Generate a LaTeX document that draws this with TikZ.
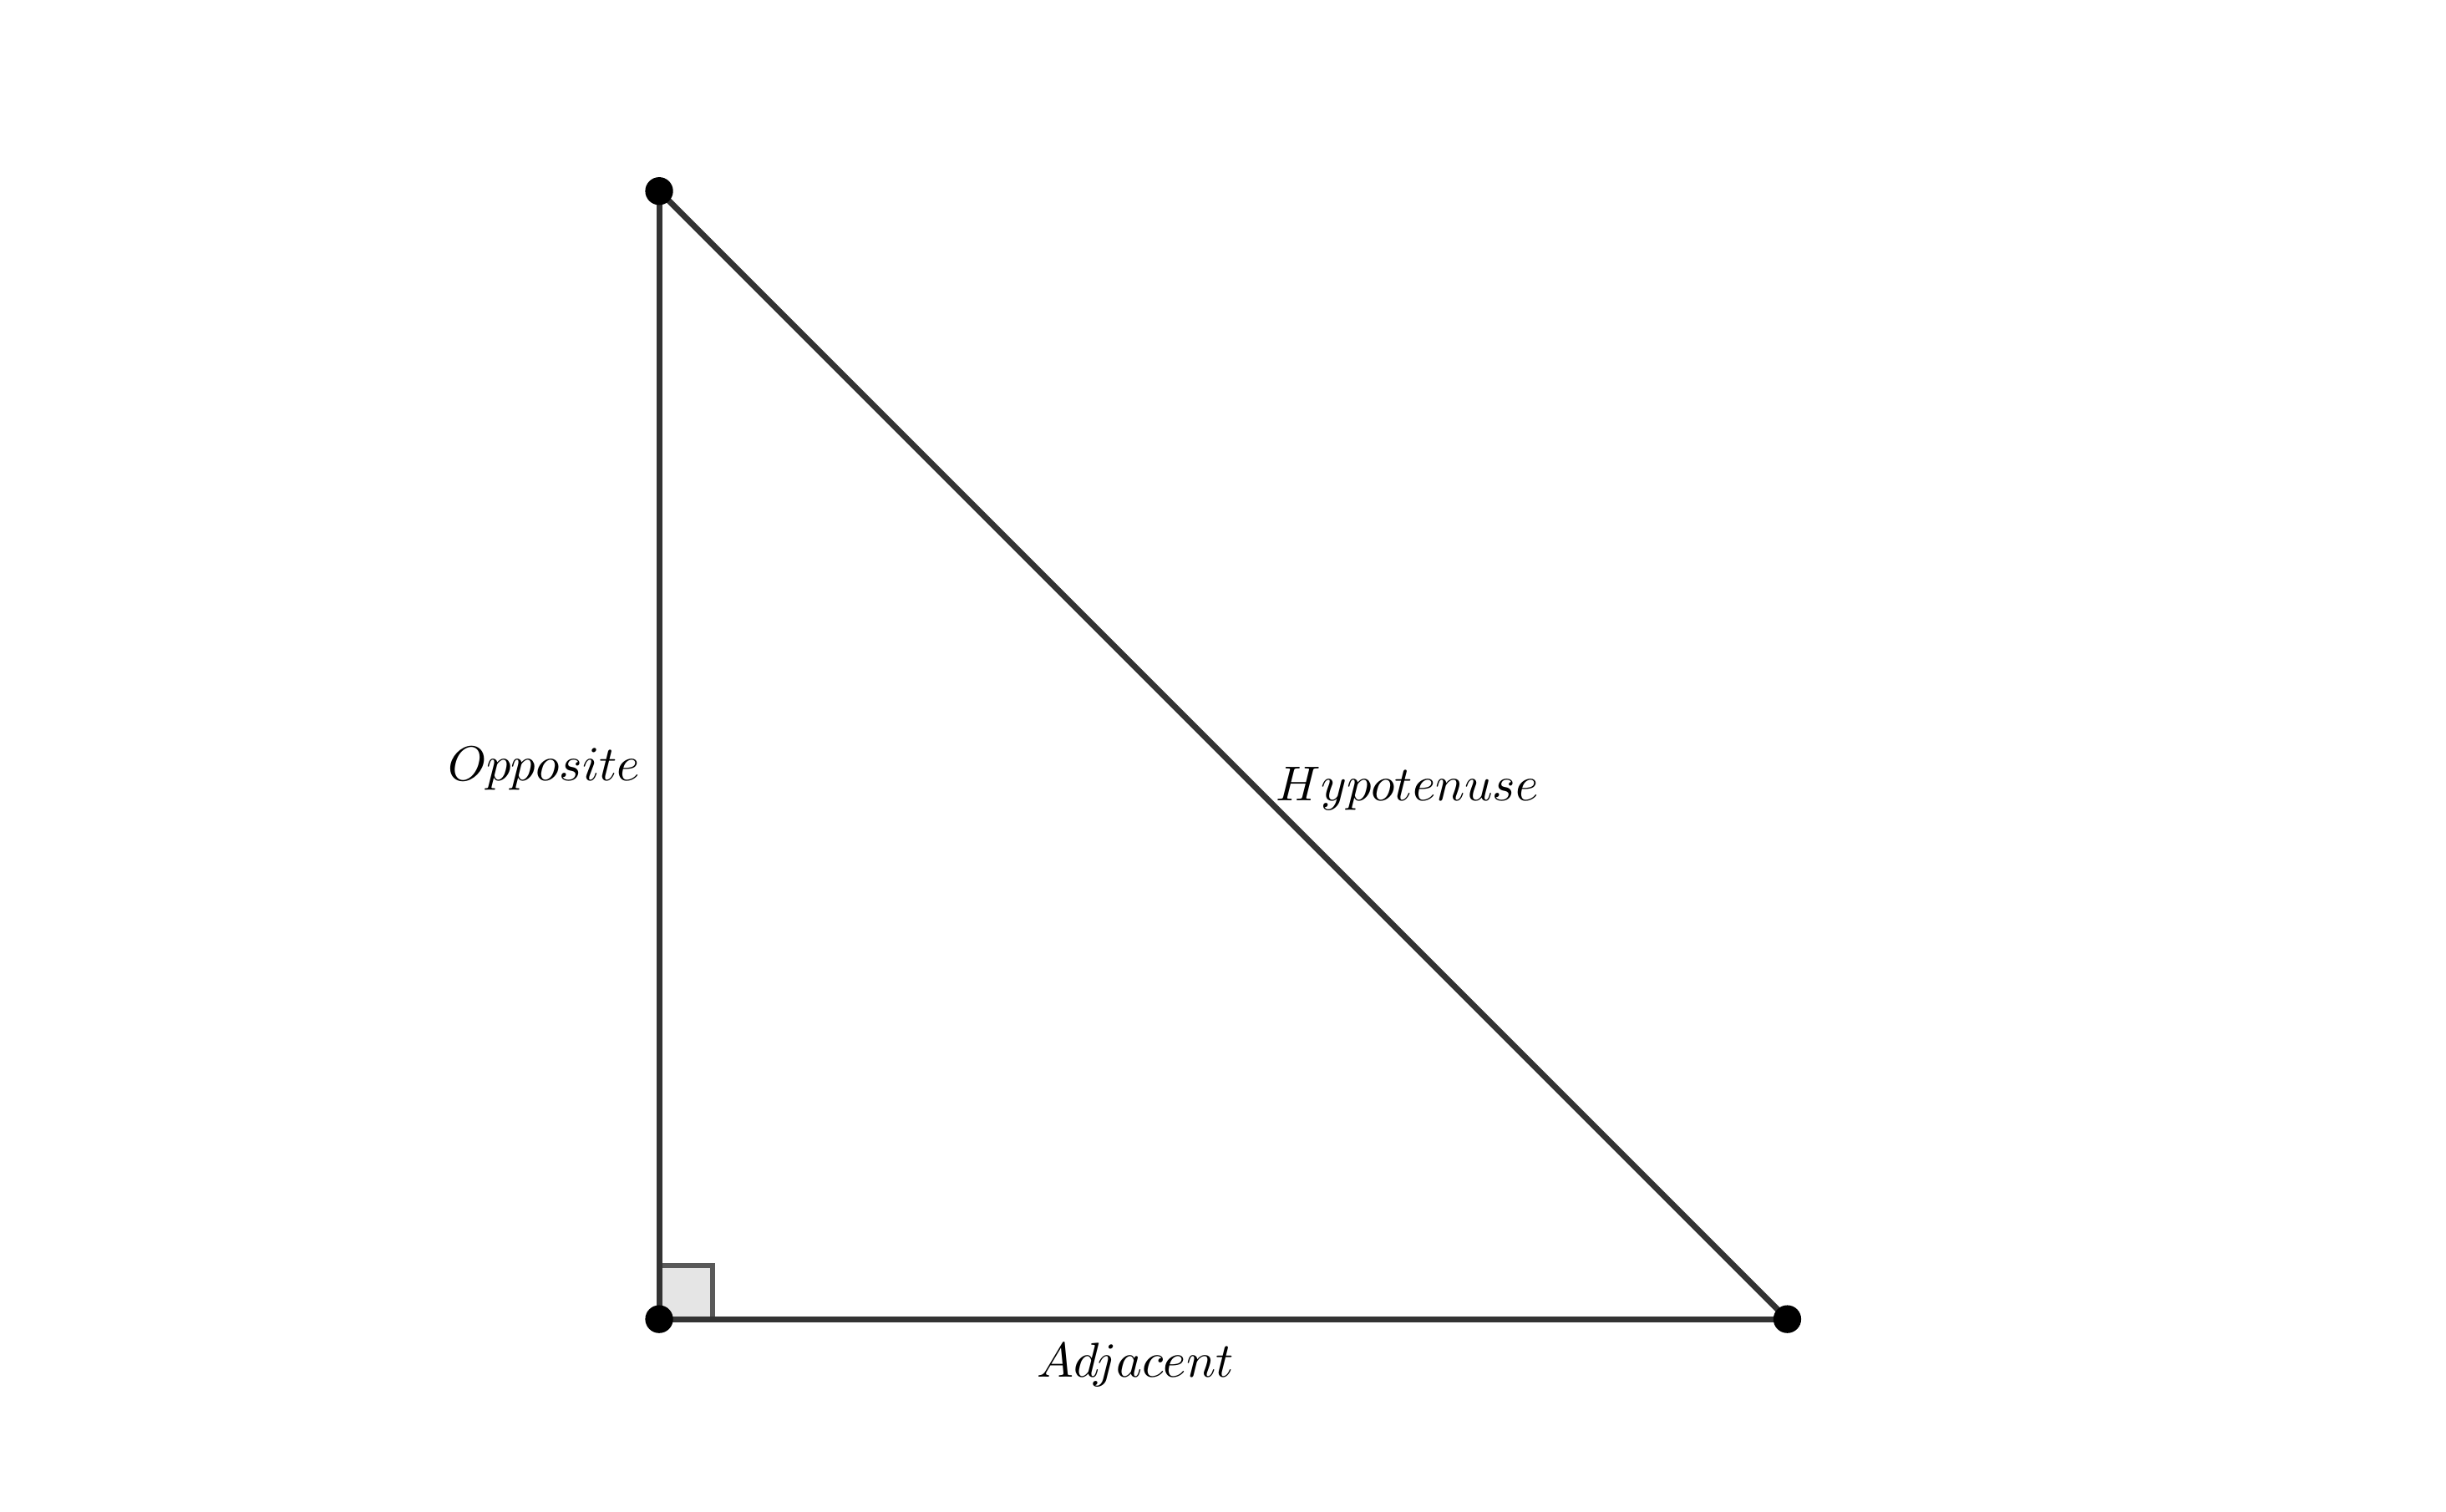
\documentclass[tikz,border=0pt]{standalone}
\usetikzlibrary{positioning}

\begin{document}
\begin{tikzpicture}[
    side/.style={draw=black!80, line width=1.2pt},
    corner/.style={draw=black!65, fill=black!10, line width=1pt},
    dot/.style={circle, fill=black, inner sep=0pt, minimum size=0.2cm},
    lbl/.style={font=\normalsize}
]
\useasboundingbox (-4.733,-1.38) rectangle (12.83,9.472);

% Vertices
\coordinate (A) at (0,0);
\coordinate (B) at (8.1,0);
\coordinate (C) at (0,8.1);

% Right angle mark
\draw[corner] (A) rectangle ++(0.384,0.384);

% Sides
\draw[side] (A) -- node[lbl, pos=0.422, below, yshift=-1pt] {$Adjacent$} (B);
\draw[side] (B) -- node[lbl, pos=0.47, right] {$Hypotenuse$} (C);
\draw[side] (C) -- node[lbl, pos=0.512, left] {$Opposite$} (A);

% Dots
\node[dot] (dA) at (A) {};
\node[dot] (dB) at (B) {};
\node[dot] (dC) at (C) {};

\end{tikzpicture}
\end{document}
